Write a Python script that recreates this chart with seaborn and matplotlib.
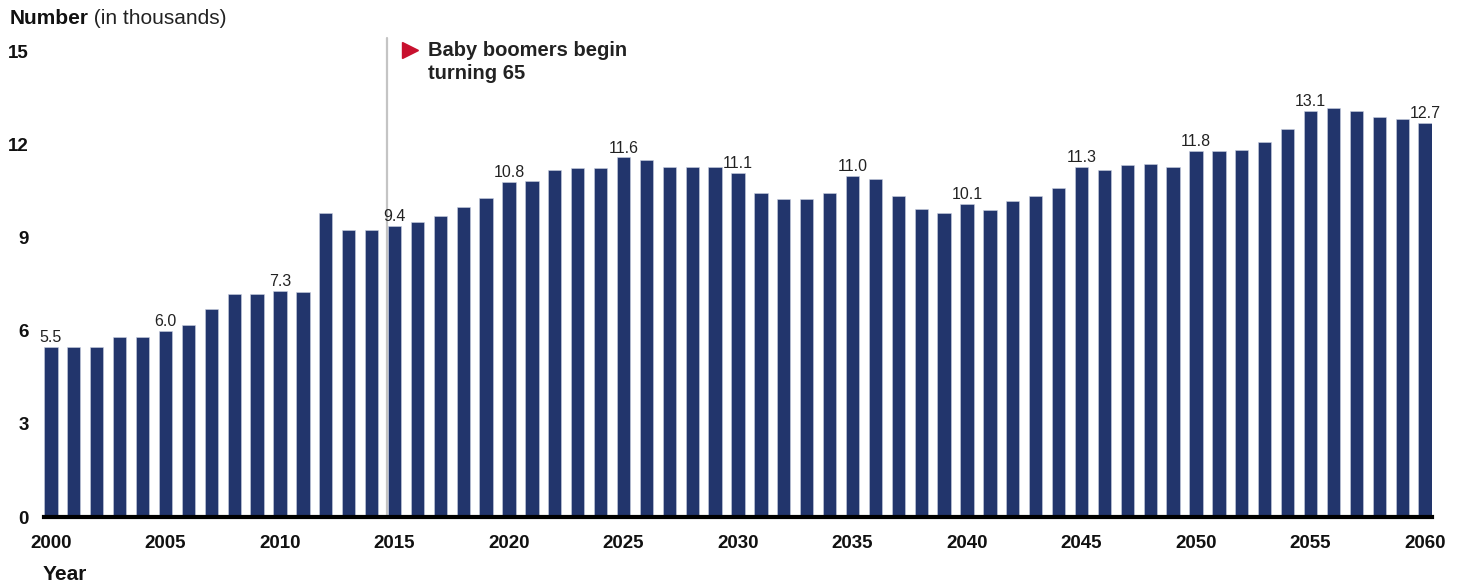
import matplotlib
matplotlib.use("Agg")
import matplotlib.pyplot as plt
import seaborn as sns
import pandas as pd

years = list(range(2000, 2061))
values = [5.5, 5.5, 5.5, 5.8, 5.8, 6.0, 6.2, 6.7, 7.2, 7.2,
          7.3, 7.25, 9.8, 9.25, 9.25, 9.4, 9.5, 9.7, 10.0, 10.3,
          10.8, 10.85, 11.2, 11.25, 11.25, 11.6, 11.5, 11.3, 11.28, 11.3,
          11.1, 10.45, 10.25, 10.25, 10.45, 11.0, 10.9, 10.35, 9.95, 9.8,
          10.1, 9.9, 10.2, 10.35, 10.6, 11.3, 11.2, 11.35, 11.4, 11.3,
          11.8, 11.8, 11.85, 12.1, 12.5, 13.1, 13.2, 13.1, 12.9, 12.85, 12.7]
labeled_years = [2000, 2005, 2010, 2015, 2020, 2025, 2030, 2035, 2040, 2045, 2050, 2055, 2060]
tick_years = [2000, 2005, 2010, 2015, 2020, 2025, 2030, 2035, 2040, 2045, 2050, 2055, 2060]
y_ticks = [0, 3, 6, 9, 12, 15]
annotation_text = "Baby boomers begin\nturning 65"
annotation_year = 2015

df = pd.DataFrame({"year": years, "value": values})

sns.set_theme(style="white")
plt.rcParams["font.family"] = ["Liberation Sans", "DejaVu Sans"]

W, H = 1461, 585
fig = plt.figure(figsize=(W / 100, H / 100), dpi=100)
ax = fig.add_axes([44.3 / W, 68 / H, 1387.4 / W, 15.45 * 31.0 / H])

bar_color = "#22356C"
sns.barplot(data=df, x="year", y="value", color=bar_color, width=0.58,
            saturation=1, ax=ax, edgecolor="#c9cfe0", linewidth=0.4, zorder=3)

ax.set_xlim(-0.29, len(years) - 1 + 0.29)
ax.set_ylim(0, 15.45)

for s in ["top", "right", "left"]:
    ax.spines[s].set_visible(False)
ax.spines["bottom"].set_color("black")
ax.spines["bottom"].set_linewidth(3)
ax.spines["bottom"].set_zorder(5)

pos = [years.index(y) for y in tick_years]
ax.set_xticks(pos)
ax.set_xticklabels([str(y) for y in tick_years], fontsize=13.5, fontweight="bold", color="#111111")
ax.set_yticks(y_ticks)
ax.set_yticklabels([str(t) for t in y_ticks], fontsize=13.5, fontweight="bold", color="#111111")
ax.tick_params(axis="x", length=0, pad=13)
ax.tick_params(axis="y", length=0, pad=11)
ax.set_xlabel("")
ax.set_ylabel("")
ax.grid(False)

# value labels
for y in labeled_years:
    i = years.index(y)
    v = values[i]
    ax.annotate(f"{v:.1f}", (i, v), xytext=(0, 3.5), textcoords="offset points",
                ha="center", va="baseline", fontsize=11.5, color="#222222", zorder=6)

# vertical marker line
xi = years.index(annotation_year) - 0.31
ax.axvline(xi, ymin=0, ymax=1, color="#c4c4c4", lw=1.6, zorder=1, clip_on=False)

# red triangle and annotation
ax.plot([years.index(annotation_year) + 0.69], [15.06], marker=">", markersize=11.5,
        color="#C8102E", clip_on=False, zorder=6, linestyle="none")
ax.text(years.index(annotation_year) + 1.47, 14.68, annotation_text, fontsize=14.5,
        fontweight="bold", color="#222222", va="center", ha="left", linespacing=1.25,
        clip_on=False)

# header and x-axis title
fig.text(10 / W, 1 - 18 / H, "Number", fontsize=15, fontweight="bold", color="#111111",
         va="center", ha="left")
fig.text(88 / W, 1 - 18 / H, " (in thousands)", fontsize=15, color="#222222",
         va="center", ha="left")
fig.text(43 / W, 1 - 575 / H, "Year", fontsize=15, fontweight="bold", color="#111111",
         va="center", ha="left")

fig.savefig("out.png", dpi=100)
